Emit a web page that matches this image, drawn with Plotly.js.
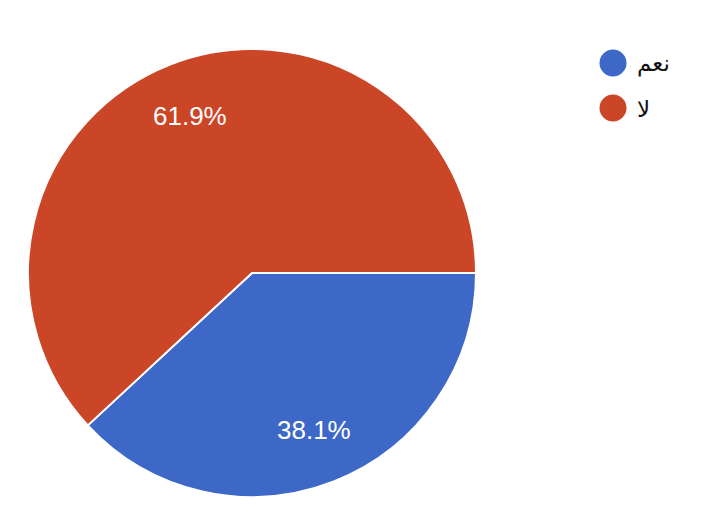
<!DOCTYPE html>
<html>
<head>
<meta charset="utf-8">
<script src="https://cdn.plot.ly/plotly-3.0.1.min.js"></script>
<style>html,body{margin:0;padding:0;background:#fff;}#chart{width:720px;height:530px;}</style>
</head>
<body>
<div id="chart"></div>
<script>
const labels = ["نعم", "لا"];
const values = [8, 13];
const colors = ["#3e68c7", "#cb4527"];

const W = 720, H = 530;
const dom = {x: [28 / W, 476 / W], y: [(H - 497) / H, (H - 49) / H]};
const pie = {
  type: "pie",
  labels: labels,
  values: values,
  sort: false,
  direction: "clockwise",
  rotation: 90,
  marker: {colors: colors, line: {color: "#ffffff", width: 2}},
  textinfo: "none",
  hoverinfo: "label+percent",
  showlegend: false,
  domain: dom
};

const shapes = [], annotations = [];
// percentage labels placed along each slice's mid-angle, at 75% of the radius
const total = values.reduce((a, b) => a + b, 0);
const cxp = (dom.x[0] + dom.x[1]) / 2, cyp = (dom.y[0] + dom.y[1]) / 2;
const Rpx = (dom.x[1] - dom.x[0]) * W / 2;
let cum = 0;
values.forEach((v, i) => {
  const mid = (cum + v / 2) / total * 2 * Math.PI; // clockwise from 3 o'clock
  cum += v;
  const r = 0.752 * Rpx;
  annotations.push({xref: "paper", yref: "paper",
    x: cxp + r * Math.cos(mid) / W, y: cyp - r * Math.sin(mid) / H,
    xanchor: "center", yanchor: "middle", showarrow: false,
    text: (v / total * 100).toFixed(1) + "%",
    font: {family: "Liberation Sans, Arial, sans-serif", size: 26, color: "#ffffff"}});
});

labels.forEach((lab, i) => {
  const cy = 63 + i * 45;
  shapes.push({type: "circle", xref: "paper", yref: "paper",
    x0: (613 - 13.5) / W, x1: (613 + 13.5) / W,
    y0: (H - cy - 13.5) / H, y1: (H - cy + 13.5) / H,
    fillcolor: colors[i], line: {width: 0}});
  annotations.push({xref: "paper", yref: "paper", x: 635 / W, y: (H - cy - 1) / H,
    xanchor: "left", yanchor: "middle", showarrow: false, text: lab,
    font: {family: "DejaVu Sans, Noto Sans, sans-serif", size: 23, color: "#111111"}});
});

Plotly.newPlot("chart", [pie], {
  width: W, height: H,
  margin: {l: 0, r: 0, t: 0, b: 0},
  paper_bgcolor: "#ffffff",
  showlegend: false,
  shapes: shapes,
  annotations: annotations
}, {displayModeBar: false, staticPlot: true});
</script>
</body>
</html>
